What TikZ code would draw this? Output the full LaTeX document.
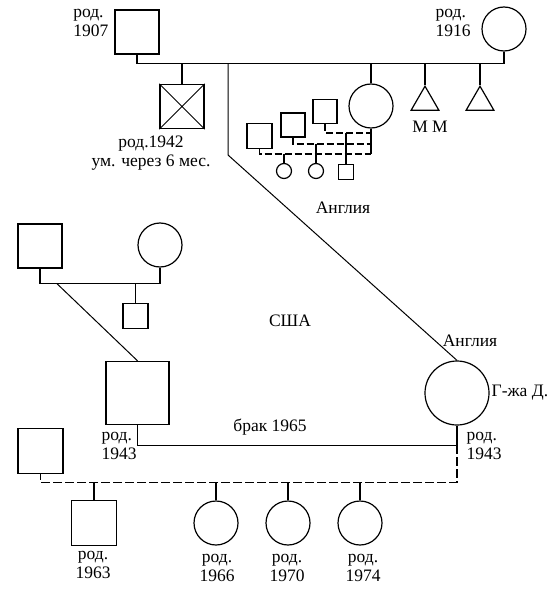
\documentclass[tikz,border=0pt]{standalone}
\usepackage{fontspec}
\setmainfont{Liberation Serif}
\usetikzlibrary{shapes.geometric}
\begin{document}
\begin{tikzpicture}[
				x=1pt, y=-1pt,
				line width=1.4pt,
				every node/.style={
						font=\fontsize{17.5}{19}\selectfont,
					},
				male/.style={draw, rectangle, minimum size=#1, inner sep=0pt},
				male/.default=44pt,
				female/.style={draw, circle, minimum size=#1, inner sep=0pt, line width=1.2pt},
				female/.default=44pt,
				lost/.style={draw, regular polygon, regular polygon sides=3, minimum size=32pt, inner sep=0pt, line width=1.2pt},
				lbl/.style={align=left, inner sep=0pt},
				wed/.style={dash pattern=on 7pt off 3pt},
				exwed/.style={dash pattern=on 9pt off 3pt},
				migr/.style={line width=1pt},]
			\useasboundingbox (0,0) rectangle (554,591);
			% grandparents
			\node[male] (gf) at (137,32) {};
			\node[female] (gm) at (504,29) {};
			\node[lbl, anchor=north east] (gfyr) at (109,9) {род.\\1907};
			\node[lbl, anchor=north west] (gmyr) at (435,9) {род.\\1916};
			\draw (gf.south) -- ++(0,9) coordinate (gmar) -| (gm.south);
			% children
			\node[male] (inf) at (182,106.5) {};
			\draw[migr] (inf.north west) -- (inf.south east) (inf.north east) -- (inf.south west);
			\node[lbl, align=center, anchor=north] (infyr) at (151,135) {род.1942\\ум. через 6 мес.};
			\node[female] (dtr) at (371,106) {};
			\foreach \n/\x in {a/425,b/480} {
					\node[lost, anchor=north] (lost\n) at (\x,85) {};
					\draw (lost\n.north) -- (lost\n.north |- gmar);
				}
			\node (mm) at (430,127) {М М};
			\draw (inf.north) -- (inf.north |- gmar);
			\draw (dtr.north) -- (dtr.north |- gmar);
			% daughter's marriages
			\node[male=25pt] (ha) at (259.5,136) {};
			\node[male=24pt] (hb) at (293,125) {};
			\node[male=24pt] (hc) at (325,111.5) {};
			\coordinate (da) at (371,154);
			\coordinate (db) at (371,144);
			\coordinate (dc) at (371,133);
			\draw (dtr.south) -- (da);
			\draw[wed] (ha.south) |- (da);
			\draw[wed] (hb.south) |- (db);
			\draw[wed] (hc.south) |- (dc);
			\node[female=15pt] (ca) at (284,171) {};
			\node[female=15pt] (cb) at (316,171) {};
			\node[male=15pt] (cc) at (346,172) {};
			\draw (ca.north) -- (ca.north |- da);
			\draw (cb.north) -- (cb.north |- db);
			\draw (cc.north) -- (cc.north |- dc);
			% emigration
			\node[female=64pt] (gd) at (457,393) {};
			\coordinate (bend) at (228,155);
			\draw[migr] (bend |- gmar) -- (bend) -- (gd.north);
			\node (eng) at (343,208) {Англия};
			\node (engb) at (470,341) {Англия};
			\node[anchor=west, inner sep=1pt] (gdn) at (490,393) {Г-жа Д.};
			\node (usa) at (290,321) {США};
			% other side
			\node[male] (pgf) at (40,246) {};
			\node[female] (pgm) at (160,245) {};
			\draw (pgf.south) -- ++(0,15) coordinate (pmar) -| (pgm.south);
			\node[male=25pt] (psib) at (135.5,316) {};
			\draw (psib.north) -- (psib.north |- pmar);
			\node[male=63pt] (son) at (137.5,393) {};
			\draw[migr] ([xshift=17pt]pmar) -- (son.north);
			\node[lbl, anchor=north west] (sonyr) at (101,432) {род.\\1943};
			\node[lbl, anchor=north west] (gdyr) at (466,432) {род.\\1943};
			% marriage 1965
			\draw (son.south) -- ++(0,20) coordinate (smar) -| (gd.south);
			\node (wedyr) at (270,427) {брак 1965};
			\node[male=45pt] (ex) at (40.5,451) {};
			\draw[exwed] (gd.south |- smar) -- ++(0,37) coordinate (exmar) -| (ex.south);
			\node[male=45pt] (kid) at (94,523) {};
			\draw (kid.north) -- (kid.north |- exmar);
			\node[lbl, align=center, anchor=north] (kidyr) at (93,551) {род.\\1963};
			\foreach \n/\x/\yr/\lx in {a/216/1966/217,b/288/1970/287,c/360/1974/363} {
					\node[female] (kid\n) at (\x,523) {};
					\draw (kid\n.north) -- (kid\n.north |- exmar);
					\node[lbl, align=center, anchor=north] (kid\n yr) at (\lx,554) {род.\\\yr};
				}
		\end{tikzpicture}
\end{document}
